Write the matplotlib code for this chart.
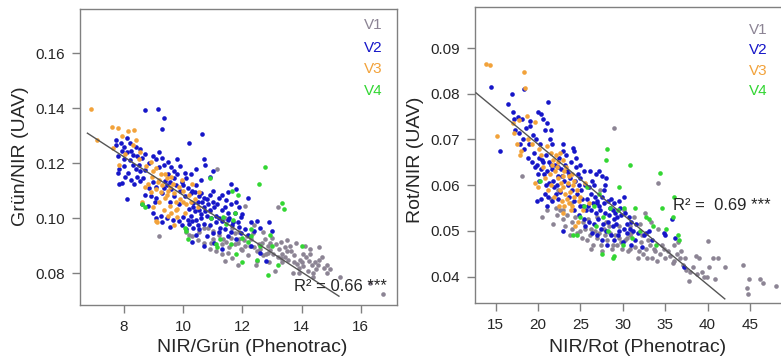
"""
Grün/NIR and Rot/NIR (UAV) against NIR/Grün and NIR/Rot (Phenotrac), groups V1-V4
"""

import matplotlib
matplotlib.use("Agg")
import matplotlib.pyplot as plt
from matplotlib.ticker import FormatStrFormatter

plt.rcParams["font.family"] = ["Liberation Sans", "DejaVu Sans"]

group_names = ["V1", "V2", "V3", "V4"]
group_colors = ["#8c8494", "#1616c8", "#f2a23a", "#33d633"]

# ---- left panel: NIR/Grün (Phenotrac) vs Grün/NIR (UAV)
green_v1 = [
    (9.2, 0.0935), (10.2, 0.0940), (10.55, 0.0950), (10.85, 0.0965), (11.0, 0.0925), (11.2, 0.0940),
    (11.3, 0.0905), (11.45, 0.0915), (11.6, 0.0930), (11.75, 0.0945), (11.85, 0.0910), (11.95, 0.0890),
    (12.05, 0.0920), (12.15, 0.0935), (12.3, 0.0925), (12.4, 0.0895), (12.5, 0.0880), (12.65, 0.0910),
    (12.75, 0.0925), (12.85, 0.0900), (12.95, 0.0885), (13.05, 0.0870), (13.15, 0.0905), (13.25, 0.0890),
    (13.35, 0.0870), (13.45, 0.0860), (13.55, 0.0850), (13.65, 0.0880), (13.75, 0.0840), (13.85, 0.0835),
    (13.95, 0.0850), (14.05, 0.0825), (14.15, 0.0860), (14.3, 0.0870), (14.35, 0.0830), (14.45, 0.0840),
    (14.5, 0.0815), (14.6, 0.0850), (14.75, 0.0820), (14.85, 0.0830), (14.95, 0.0815), (14.3, 0.0890),
    (14.2, 0.0810), (13.7, 0.0800), (13.1, 0.0810), (12.9, 0.0840), (12.5, 0.0845), (12.2, 0.0865),
    (11.85, 0.0830), (11.65, 0.0855), (11.5, 0.0875), (11.3, 0.0870), (11.1, 0.0880), (10.9, 0.0890),
    (10.7, 0.0910), (10.5, 0.0920), (11.15, 0.1180), (13.2, 0.1040), (12.1, 0.1045), (11.4, 0.1000),
    (10.9, 0.1025), (11.0, 0.0955), (11.65, 0.0965), (12.4, 0.0975), (12.7, 0.0950), (13.0, 0.0930),
    (13.5, 0.0920), (13.8, 0.0910), (14.1, 0.0900), (14.6, 0.0895), (16.75, 0.0725), (16.3, 0.0765),
    (15.3, 0.0785), (13.9, 0.0800), (12.0, 0.0885), (11.4, 0.0845), (12.8, 0.0870), (13.3, 0.0915),
    (12.45, 0.0830), (14.05, 0.0870), (13.6, 0.0900), (10.7, 0.0965), (10.3, 0.0935), (11.9, 0.0950),
    (12.55, 0.0905), (14.4, 0.0785), (13.35, 0.0840), (11.55, 0.0895), (11.75, 0.0905), (12.25, 0.0900),
    (12.6, 0.0890), (12.85, 0.0875), (13.2, 0.0860), (13.5, 0.0880), (13.75, 0.0865), (14.0, 0.0840),
    (14.25, 0.0845), (14.55, 0.0830), (14.7, 0.0860), (14.4, 0.0800), (13.9, 0.0820), (13.3, 0.0855),
    (12.95, 0.0910), (12.35, 0.0945), (11.9, 0.0925), (11.35, 0.0925), (10.95, 0.0910), (12.1, 0.0900),
    (12.7, 0.0865), (13.45, 0.0895), (14.85, 0.0800), (10.1, 0.0950),
]
green_v2 = [
    (7.75, 0.1285), (7.75, 0.1265), (7.9, 0.1275), (8.0, 0.1260), (8.1, 0.1290), (8.2, 0.1275),
    (8.25, 0.1245), (8.4, 0.1260), (8.55, 0.1250), (8.7, 0.1235), (8.6, 0.1220), (8.45, 0.1225),
    (8.3, 0.1230), (8.1, 0.1240), (7.95, 0.1245), (7.8, 0.1225), (7.85, 0.1180), (7.8, 0.1165),
    (7.85, 0.1125), (7.95, 0.1128), (8.05, 0.1150), (8.15, 0.1165), (8.3, 0.1195), (8.2, 0.1210),
    (8.0, 0.1215), (8.4, 0.1180), (8.55, 0.1170), (8.7, 0.1175), (8.85, 0.1200), (9.0, 0.1225),
    (9.1, 0.1215), (9.2, 0.1240), (9.3, 0.1220), (9.35, 0.1195), (9.5, 0.1205), (9.6, 0.1185),
    (9.8, 0.1215), (9.9, 0.1190), (10.2, 0.1275), (8.7, 0.1395), (9.15, 0.1398), (9.35, 0.1365),
    (9.3, 0.1325), (10.65, 0.1305), (10.7, 0.1215), (10.75, 0.1195), (10.45, 0.1180), (11.0, 0.1170),
    (10.9, 0.1150), (8.1, 0.1070), (8.6, 0.1050), (8.7, 0.1085), (8.9, 0.1080), (8.35, 0.1125),
    (8.55, 0.1135), (8.65, 0.1145), (9.0, 0.1130), (9.1, 0.1115), (9.4, 0.1135), (9.5, 0.1160),
    (9.55, 0.1130), (9.7, 0.1145), (9.8, 0.1160), (9.95, 0.1130), (10.1, 0.1145), (10.25, 0.1160),
    (10.3, 0.1100), (10.45, 0.1120), (10.6, 0.1090), (10.7, 0.1075), (10.5, 0.1060), (10.35, 0.1055),
    (10.2, 0.1035), (10.4, 0.1025), (10.55, 0.1030), (10.7, 0.1040), (10.85, 0.1050), (11.0, 0.1060),
    (11.2, 0.1075), (11.3, 0.1085), (11.45, 0.1065), (11.6, 0.1050), (11.8, 0.1060), (11.9, 0.1040),
    (11.75, 0.1020), (11.5, 0.1020), (11.3, 0.1030), (11.1, 0.1010), (10.95, 0.1000), (10.8, 0.1010),
    (10.6, 0.1000), (10.45, 0.0995), (10.3, 0.0990), (10.15, 0.0995), (10.0, 0.1005), (9.85, 0.0990),
    (9.55, 0.0970), (9.3, 0.0985), (9.1, 0.1000), (10.1, 0.0960), (10.35, 0.0965), (10.5, 0.0975),
    (10.7, 0.0980), (10.9, 0.0975), (11.1, 0.0985), (11.3, 0.0990), (11.5, 0.0995), (11.7, 0.0985),
    (11.9, 0.0970), (12.1, 0.0960), (11.4, 0.0960), (11.2, 0.0950), (11.0, 0.0945), (10.8, 0.0935),
    (11.5, 0.0935), (11.8, 0.0925), (12.2, 0.0940), (12.4, 0.0955), (12.6, 0.0965), (12.5, 0.0990),
    (12.9, 0.0985), (13.0, 0.0955), (12.3, 0.0900), (12.6, 0.0875), (12.8, 0.0845), (10.3, 0.0915),
    (10.7, 0.0900), (11.05, 0.0910), (11.3, 0.0890), (11.8, 0.1105), (11.6, 0.1125), (12.2, 0.1075),
    (11.95, 0.1005), (9.7, 0.1080), (9.55, 0.1060), (9.85, 0.1050), (10.05, 0.1080), (9.3, 0.1090),
    (9.1, 0.1075), (8.8, 0.1045), (9.0, 0.1020), (9.35, 0.1110), (9.45, 0.1120), (9.6, 0.1105),
    (9.75, 0.1120), (9.9, 0.1100), (10.0, 0.1120), (10.15, 0.1110), (10.25, 0.1090), (10.4, 0.1095),
    (10.55, 0.1080), (10.65, 0.1060), (10.8, 0.1070), (10.9, 0.1085), (11.05, 0.1040), (11.15, 0.1050),
    (10.25, 0.1010), (10.35, 0.1040), (10.6, 0.1015), (10.75, 0.1025), (10.9, 0.1030), (11.2, 0.1000),
    (11.4, 0.1040), (11.55, 0.1000), (11.65, 0.0975), (11.85, 0.0985), (10.55, 0.0960), (10.2, 0.0980),
    (9.95, 0.0975), (9.65, 0.0995), (9.45, 0.1000), (9.25, 0.1010), (9.05, 0.1060), (8.85, 0.1110),
    (8.45, 0.1150), (8.25, 0.1140), (8.0, 0.1190), (8.5, 0.1195), (9.2, 0.1185), (9.7, 0.1170),
    (10.05, 0.1165), (10.6, 0.1140), (11.0, 0.1100), (11.5, 0.1095), (12.0, 0.1015), (12.3, 0.0985),
    (11.25, 0.0965), (11.6, 0.0950), (10.45, 0.0940), (11.95, 0.0945),
]
green_v3 = [
    (6.88, 0.1398), (7.1, 0.1285), (7.6, 0.1332), (7.8, 0.1327), (8.15, 0.1318), (8.35, 0.1322),
    (7.95, 0.1300), (8.3, 0.1265), (8.05, 0.1235), (7.85, 0.1195), (8.5, 0.1215), (8.75, 0.1190),
    (9.0, 0.1170), (9.1, 0.1182), (9.25, 0.1160), (9.45, 0.1148), (9.6, 0.1150), (9.3, 0.1120),
    (9.1, 0.1108), (8.9, 0.1095), (8.7, 0.1115), (9.5, 0.1100), (9.7, 0.1090), (9.85, 0.1115),
    (10.0, 0.1100), (10.2, 0.1085), (10.4, 0.1070), (9.4, 0.1075), (9.2, 0.1060), (9.0, 0.1040),
    (9.35, 0.1030), (9.55, 0.1045), (9.75, 0.1060), (9.9, 0.1070), (10.1, 0.1050), (9.6, 0.1020),
    (9.8, 0.1005), (9.1, 0.0990), (9.12, 0.0985), (9.7, 0.0975), (8.8, 0.1125), (9.95, 0.1140),
    (10.3, 0.1125), (8.6, 0.1060), (9.65, 0.1125), (9.45, 0.1085), (10.55, 0.1095), (9.2, 0.1140),
    (8.95, 0.1150), (9.8, 0.1035), (10.05, 0.1020), (10.5, 0.1040), (8.4, 0.1285), (7.65, 0.1255),
    (9.25, 0.1095), (9.55, 0.1115), (9.4, 0.1160), (9.15, 0.1130), (9.75, 0.1030), (9.5, 0.1010),
    (10.25, 0.1060), (10.0, 0.1060), (8.55, 0.1240), (8.9, 0.1205),
]
green_v4 = [
    (8.6, 0.1050), (8.7, 0.1040), (10.05, 0.0965), (10.1, 0.0955), (10.15, 0.0925), (10.9, 0.1145),
    (11.35, 0.1005), (11.1, 0.0905), (11.15, 0.0895), (11.6, 0.0905), (11.65, 0.1100), (11.85, 0.1085),
    (12.75, 0.1185), (12.55, 0.1125), (13.35, 0.1055), (13.4, 0.1035), (14.0, 0.0900), (12.85, 0.0795),
    (13.2, 0.0830), (12.0, 0.0930), (12.3, 0.0935), (12.0, 0.0840), (11.8, 0.0870), (12.5, 0.0850),
    (12.6, 0.0900), (12.3, 0.0960), (11.45, 0.0980), (11.7, 0.0995), (12.2, 0.0915), (13.0, 0.0900),
    (11.25, 0.0925), (10.95, 0.1000), (11.75, 0.1020), (12.95, 0.0940),
]
green_fit_x = [6.77, 15.26]
green_fit_y = [0.1309, 0.0717]
green_r2 = "R² = 0.66 ***"

# ---- right panel: NIR/Rot (Phenotrac) vs Rot/NIR (UAV)
red_v1 = [
    (18.1, 0.0620), (20.5, 0.0530), (29.0, 0.0725), (34.2, 0.0605), (21.5, 0.0570), (22.6, 0.0545),
    (23.4, 0.0535), (24.0, 0.0520), (24.9, 0.0500), (25.5, 0.0505), (26.1, 0.0490), (26.7, 0.0500),
    (27.2, 0.0495), (27.8, 0.0505), (28.5, 0.0495), (29.1, 0.0490), (29.6, 0.0485), (30.3, 0.0480),
    (30.9, 0.0490), (31.5, 0.0465), (32.1, 0.0475), (32.7, 0.0460), (33.2, 0.0470), (33.8, 0.0455),
    (34.4, 0.0450), (35.0, 0.0440), (35.6, 0.0445), (36.1, 0.0435), (36.7, 0.0440), (37.1, 0.0425),
    (37.5, 0.0415), (37.8, 0.0390), (38.3, 0.0420), (38.8, 0.0405), (39.3, 0.0410), (39.6, 0.0400),
    (39.9, 0.0400), (40.2, 0.0420), (40.7, 0.0440), (40.9, 0.0395), (41.2, 0.0440), (42.1, 0.0420),
    (44.2, 0.0425), (44.7, 0.0375), (44.8, 0.0362), (44.9, 0.0395), (46.2, 0.0395), (46.5, 0.0385),
    (48.1, 0.0380), (40.1, 0.0478), (38.6, 0.0445), (39.0, 0.0440), (36.5, 0.0475), (35.3, 0.0455),
    (34.6, 0.0470), (33.5, 0.0440), (32.9, 0.0440), (31.8, 0.0440), (30.6, 0.0455), (29.9, 0.0460),
    (29.3, 0.0470), (28.7, 0.0460), (28.1, 0.0480), (27.4, 0.0470), (26.5, 0.0470), (25.8, 0.0480),
    (25.2, 0.0485), (24.6, 0.0495), (23.8, 0.0490), (22.9, 0.0525), (22.2, 0.0535), (21.0, 0.0545),
    (21.8, 0.0515), (23.2, 0.0510), (24.4, 0.0530), (25.9, 0.0525), (26.9, 0.0530), (28.0, 0.0520),
    (29.5, 0.0510), (30.8, 0.0510), (32.0, 0.0515), (33.3, 0.0520), (34.1, 0.0505), (32.6, 0.0540),
    (31.3, 0.0530), (30.1, 0.0545), (36.9, 0.0455), (37.9, 0.0410), (35.9, 0.0430), (34.0, 0.0435),
    (27.6, 0.0455), (26.2, 0.0460), (22.4, 0.0590), (23.9, 0.0560), (27.3, 0.0590), (30.5, 0.0485),
    (36.0, 0.0470), (26.3, 0.0505), (27.0, 0.0485), (27.9, 0.0490), (28.9, 0.0470), (29.8, 0.0475),
    (30.9, 0.0460), (31.9, 0.0455), (32.4, 0.0450), (33.7, 0.0460), (34.9, 0.0460), (31.0, 0.0495),
    (32.3, 0.0490), (25.3, 0.0520), (24.0, 0.0505), (22.1, 0.0550), (23.0, 0.0545), (28.4, 0.0510),
    (33.0, 0.0480), (36.4, 0.0450), (37.4, 0.0440),
]
red_v2 = [
    (14.4, 0.0815), (15.5, 0.0675), (16.4, 0.0778), (16.9, 0.0800), (17.1, 0.0760), (17.2, 0.0745),
    (17.6, 0.0750), (18.1, 0.0745), (18.3, 0.0810), (17.3, 0.0720), (17.8, 0.0715), (18.2, 0.0700),
    (18.6, 0.0725), (19.1, 0.0730), (19.4, 0.0710), (18.9, 0.0690), (18.4, 0.0680), (17.9, 0.0690),
    (20.3, 0.0755), (20.6, 0.0745), (21.0, 0.0735), (21.2, 0.0782), (20.8, 0.0720), (21.4, 0.0700),
    (21.6, 0.0690), (19.8, 0.0700), (20.2, 0.0690), (19.5, 0.0670), (20.1, 0.0660), (20.5, 0.0655),
    (20.9, 0.0665), (21.3, 0.0650), (19.9, 0.0645), (19.6, 0.0640), (20.3, 0.0635), (20.7, 0.0625),
    (21.1, 0.0630), (21.6, 0.0635), (22.0, 0.0645), (22.5, 0.0660), (23.0, 0.0675), (23.3, 0.0665),
    (24.1, 0.0682), (24.3, 0.0675), (23.9, 0.0650), (24.5, 0.0660), (25.0, 0.0645), (25.4, 0.0630),
    (24.7, 0.0625), (24.4, 0.0610), (23.8, 0.0615), (23.5, 0.0600), (22.2, 0.0600), (21.8, 0.0610),
    (21.3, 0.0605), (20.8, 0.0580), (20.4, 0.0570), (19.9, 0.0565), (21.0, 0.0555), (21.6, 0.0565),
    (22.1, 0.0580), (22.6, 0.0585), (23.1, 0.0610), (24.0, 0.0590), (24.6, 0.0580), (25.1, 0.0590),
    (25.5, 0.0600), (26.0, 0.0595), (26.4, 0.0610), (26.8, 0.0625), (27.2, 0.0630), (27.6, 0.0620),
    (28.0, 0.0615), (26.2, 0.0580), (25.8, 0.0570), (26.7, 0.0575), (27.0, 0.0565), (27.5, 0.0575),
    (28.2, 0.0565), (28.6, 0.0570), (29.0, 0.0560), (29.5, 0.0565), (30.2, 0.0575), (25.3, 0.0555),
    (25.7, 0.0545), (26.3, 0.0545), (26.8, 0.0540), (27.3, 0.0545), (27.9, 0.0540), (28.4, 0.0535),
    (28.9, 0.0545), (29.3, 0.0530), (29.8, 0.0535), (30.3, 0.0540), (30.7, 0.0530), (31.0, 0.0520),
    (24.8, 0.0535), (25.4, 0.0525), (26.0, 0.0520), (26.6, 0.0515), (27.1, 0.0525), (27.7, 0.0515),
    (28.3, 0.0520), (28.8, 0.0510), (29.2, 0.0515), (29.6, 0.0500), (30.1, 0.0505), (30.5, 0.0495),
    (31.2, 0.0500), (31.8, 0.0495), (32.5, 0.0490), (33.1, 0.0500), (34.9, 0.0495), (35.0, 0.0490),
    (35.8, 0.0525), (36.2, 0.0485), (26.4, 0.0495), (27.0, 0.0490), (27.6, 0.0480), (28.1, 0.0470),
    (29.0, 0.0480), (30.0, 0.0475), (31.0, 0.0470), (32.3, 0.0465), (37.2, 0.0420), (31.5, 0.0480),
    (27.8, 0.0590), (26.1, 0.0630), (25.0, 0.0615), (23.6, 0.0625), (22.7, 0.0635), (22.3, 0.0620),
    (21.9, 0.0595), (20.9, 0.0600), (20.1, 0.0610), (32.8, 0.0495), (33.4, 0.0480), (24.2, 0.0545),
    (23.0, 0.0500), (20.6, 0.0650), (21.5, 0.0645), (22.3, 0.0640), (22.8, 0.0620), (23.4, 0.0630),
    (24.8, 0.0600), (25.2, 0.0570), (25.9, 0.0555), (26.5, 0.0560), (27.2, 0.0555), (27.8, 0.0560),
    (28.5, 0.0550), (29.1, 0.0540), (29.7, 0.0550), (30.5, 0.0515), (27.4, 0.0505), (28.0, 0.0500),
    (28.6, 0.0490), (29.4, 0.0490), (25.6, 0.0510), (24.9, 0.0555), (24.3, 0.0565), (23.6, 0.0575),
    (22.4, 0.0570), (21.2, 0.0575), (20.0, 0.0625), (19.3, 0.0650), (18.8, 0.0660), (19.0, 0.0740),
    (20.0, 0.0760), (21.5, 0.0720), (22.9, 0.0690), (26.6, 0.0600), (27.9, 0.0600), (29.0, 0.0525),
    (30.9, 0.0505), (31.6, 0.0515), (26.9, 0.0560), (24.5, 0.0640), (23.2, 0.0645),
]
red_v3 = [
    (13.9, 0.0865), (14.3, 0.0862), (18.3, 0.0848), (18.5, 0.0812), (15.1, 0.0707), (18.7, 0.0752),
    (19.7, 0.0738), (17.0, 0.0735), (17.7, 0.0742), (17.2, 0.0715), (17.5, 0.0690), (18.0, 0.0675),
    (17.9, 0.0665), (18.8, 0.0700), (19.3, 0.0690), (20.1, 0.0680), (20.4, 0.0665), (21.0, 0.0685),
    (21.5, 0.0670), (21.8, 0.0655), (22.1, 0.0665), (22.4, 0.0650), (22.6, 0.0670), (23.0, 0.0655),
    (23.3, 0.0640), (23.6, 0.0620), (24.0, 0.0625), (24.3, 0.0610), (22.0, 0.0630), (22.3, 0.0615),
    (22.7, 0.0605), (23.0, 0.0595), (23.2, 0.0580), (23.4, 0.0570), (22.8, 0.0565), (22.5, 0.0555),
    (23.6, 0.0560), (23.9, 0.0545), (24.3, 0.0575), (24.6, 0.0590), (25.0, 0.0575), (24.7, 0.0520),
    (24.4, 0.0510), (21.5, 0.0600), (21.2, 0.0590), (20.0, 0.0595), (19.6, 0.0605), (20.8, 0.0615),
    (21.4, 0.0625), (23.1, 0.0555), (22.9, 0.0540), (25.6, 0.0605), (24.1, 0.0600), (20.6, 0.0640),
    (25.3, 0.0545), (26.0, 0.0560), (21.9, 0.0575), (23.8, 0.0585), (22.2, 0.0640), (22.9, 0.0620),
    (23.5, 0.0605), (21.7, 0.0645), (23.1, 0.0630), (24.8, 0.0565), (22.6, 0.0590), (24.0, 0.0555),
]
red_v4 = [
    (20.2, 0.0610), (24.1, 0.0490), (24.6, 0.0490), (25.4, 0.0555), (25.8, 0.0595), (28.1, 0.0680),
    (28.0, 0.0655), (30.9, 0.0645), (34.4, 0.0627), (29.5, 0.0595), (27.2, 0.0580), (28.5, 0.0550),
    (29.4, 0.0545), (30.2, 0.0550), (31.4, 0.0550), (32.7, 0.0530), (33.1, 0.0525), (33.6, 0.0510),
    (34.6, 0.0550), (35.1, 0.0505), (36.0, 0.0575), (36.5, 0.0490), (36.6, 0.0480), (27.5, 0.0450),
    (28.8, 0.0440), (29.0, 0.0445), (30.0, 0.0470), (28.3, 0.0500), (26.8, 0.0510), (25.0, 0.0530),
    (32.0, 0.0500), (31.1, 0.0485), (33.9, 0.0470), (26.6, 0.0555), (27.7, 0.0530), (35.9, 0.0530),
]
red_fit_x = [12.68, 42.04]
red_fit_y = [0.0802, 0.0351]
red_r2 = "R² =  0.69 ***"

frame_color = "#808080"
text_color = "#262626"

fig = plt.figure(figsize=(7.81, 3.62), dpi=100)


def panel(rect, groups, fit_x, fit_y, r2, r2_pos, r2_ha, legend_x, legend_y,
          xlim, ylim, xticks, yticks):
    ax = fig.add_axes(rect)
    for pts, color in zip(groups, group_colors):
        xs = [p[0] for p in pts]
        ys = [p[1] for p in pts]
        ax.scatter(xs, ys, s=11, color=color, linewidths=0, zorder=2)
    ax.plot(fit_x, fit_y, color="#555555", lw=1, zorder=3)
    ax.set_xlim(xlim)
    ax.set_ylim(ylim)
    ax.set_xticks(xticks)
    ax.set_yticks(yticks)
    ax.yaxis.set_major_formatter(FormatStrFormatter("%.2f"))
    for s in ax.spines.values():
        s.set_color(frame_color)
        s.set_linewidth(1)
    ax.tick_params(length=6, width=1, color=frame_color, labelsize=11,
                   labelcolor=text_color, pad=5)
    for name, color, ly in zip(group_names, group_colors, legend_y):
        ax.text(legend_x, ly, name, color=color, fontsize=11, ha="right",
                va="center", transform=ax.transAxes)
    ax.text(r2_pos[0], r2_pos[1], r2, fontsize=12, color=text_color,
            ha=r2_ha, va="center", transform=ax.transAxes)
    return ax


panel([80 / 781, 1 - 305 / 362, 317 / 781, 296 / 362],
      [green_v1, green_v2, green_v3, green_v4], green_fit_x, green_fit_y,
      green_r2, (0.968, 0.064), "right", 0.956, [0.946, 0.868, 0.797, 0.723],
      (6.52, 17.22), (0.0685, 0.176), [8, 10, 12, 14, 16],
      [0.08, 0.10, 0.12, 0.14, 0.16])

panel([475 / 781, 1 - 303 / 362, 313 / 781, 296 / 362],
      [red_v1, red_v2, red_v3, red_v4], red_fit_x, red_fit_y,
      red_r2, (0.633, 0.331), "left", 0.936, [0.922, 0.855, 0.784, 0.716],
      (12.56, 49.5), (0.0342, 0.099), [15, 20, 25, 30, 35, 40, 45],
      [0.04, 0.05, 0.06, 0.07, 0.08, 0.09])

# axis titles placed by pixel position
fig.text(252 / 781, 1 - 347 / 362, "NIR/Grün (Phenotrac)", fontsize=14,
         color=text_color, ha="center", va="center")
fig.text(21 / 781, 1 - 156 / 362, "Grün/NIR (UAV)", fontsize=14,
         color=text_color, ha="center", va="center", rotation=90)
fig.text(638 / 781, 1 - 347 / 362, "NIR/Rot (Phenotrac)", fontsize=14,
         color=text_color, ha="center", va="center")
fig.text(415 / 781, 1 - 160 / 362, "Rot/NIR (UAV)", fontsize=14,
         color=text_color, ha="center", va="center", rotation=90)

fig.savefig("out.png", dpi=100)
